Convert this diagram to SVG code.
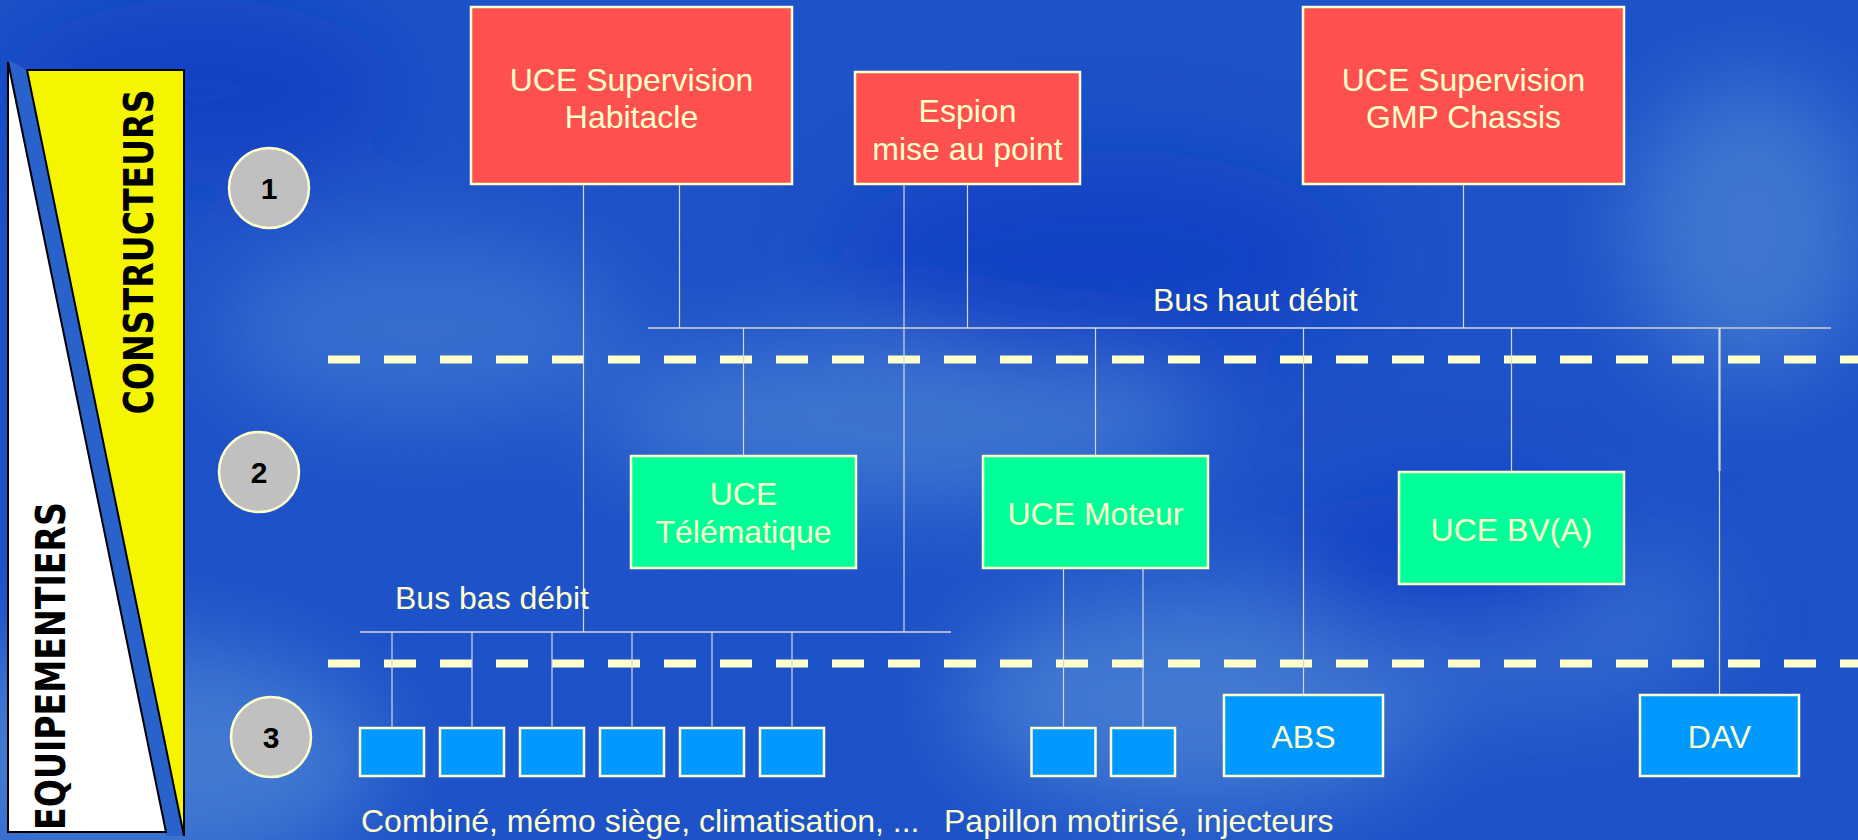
<svg xmlns="http://www.w3.org/2000/svg" width="1858" height="840" viewBox="0 0 1858 840">
<defs>
<filter id="blur" x="-50%" y="-50%" width="200%" height="200%"><feGaussianBlur stdDeviation="45"/></filter>
<style>
.t{font-family:"Liberation Sans",Arial,sans-serif;font-size:32px;fill:#ffffcc;text-anchor:middle}
.tl{font-family:"Liberation Sans",Arial,sans-serif;font-size:32px;fill:#ffffcc}
.red{fill:#ff5050;stroke:#ffffcc;stroke-width:2.5}
.grn{fill:#00ff99;stroke:#ffffcc;stroke-width:2.5}
.blu{fill:#0099ff;stroke:#ffffcc;stroke-width:2.5}
.num{fill:#c0c0c0;stroke:#ffffcc;stroke-width:2.5}
.nt{font-family:"Liberation Sans",Arial,sans-serif;font-size:30px;font-weight:bold;fill:#000;text-anchor:middle}
.ln{stroke:#d4d8e4;stroke-width:1.2;fill:none}
.bus{stroke:#aab6cc;stroke-width:2.2;fill:none}
.dash{stroke:#ffffcc;stroke-width:8;stroke-dasharray:32 24;fill:none}
.vt{font-family:"DejaVu Sans","Liberation Sans",sans-serif;font-weight:bold;font-size:40px;fill:#000}
</style>
</defs>
<rect width="1858" height="840" fill="#1e52c8"/>
<g filter="url(#blur)" opacity="0.75">
<ellipse cx="120" cy="760" rx="260" ry="120" fill="#4d86d6"/>
<ellipse cx="420" cy="330" rx="200" ry="90" fill="#3f78d2"/>
<ellipse cx="900" cy="420" rx="300" ry="80" fill="#4a82d4"/>
<ellipse cx="1200" cy="700" rx="240" ry="110" fill="#4d86d6"/>
<ellipse cx="1750" cy="230" rx="120" ry="150" fill="#4a82d4"/>
<ellipse cx="1500" cy="620" rx="220" ry="90" fill="#3a72d0"/>
<ellipse cx="200" cy="90" rx="200" ry="90" fill="#0e3ec2"/>
<ellipse cx="1100" cy="260" rx="260" ry="110" fill="#0c3cc4"/>
<ellipse cx="1450" cy="560" rx="160" ry="70" fill="#0a3ac6"/>
</g>

<g id="banner">
<polygon points="9,60 27,70 184,836 166,836" fill="#2a62cc"/>
<polygon points="8,62 8,832 166,832" fill="#ffffff" stroke="#000" stroke-width="2"/>
<polygon points="27,70 184,70 184,836" fill="#f5f500" stroke="#000" stroke-width="2"/>
<text class="vt" transform="translate(153,252) rotate(-90)" text-anchor="middle" textLength="325" lengthAdjust="spacingAndGlyphs">CONSTRUCTEURS</text>
<text class="vt" transform="translate(65,666) rotate(-90)" text-anchor="middle" textLength="328" lengthAdjust="spacingAndGlyphs">EQUIPEMENTIERS</text>
</g>

<g id="levels">
<line class="dash" x1="328" y1="359.5" x2="1858" y2="359.5"/>
<line class="dash" x1="328" y1="663.5" x2="1858" y2="663.5"/>
</g>

<g id="connectors">
<line class="bus" x1="648" y1="328" x2="1831" y2="328"/>
<line class="bus" x1="360" y1="632" x2="951" y2="632"/>
<line class="ln" x1="583.5" y1="184" x2="583.5" y2="632"/>
<line class="ln" x1="679.5" y1="184" x2="679.5" y2="328"/>
<line class="ln" x1="904" y1="184" x2="904" y2="632"/>
<line class="ln" x1="967.5" y1="184" x2="967.5" y2="328"/>
<line class="ln" x1="1463.5" y1="184" x2="1463.5" y2="328"/>
<line class="ln" x1="743.5" y1="328" x2="743.5" y2="456"/>
<line class="ln" x1="1095.5" y1="328" x2="1095.5" y2="456"/>
<line class="ln" x1="1303.5" y1="328" x2="1303.5" y2="695"/>
<line class="ln" x1="1511.5" y1="328" x2="1511.5" y2="472"/>
<line class="ln" x1="1719.5" y1="328" x2="1719.5" y2="471" style="stroke-width:2.2"/>
<line class="ln" x1="1719.5" y1="471" x2="1719.5" y2="695"/>
<line class="ln" x1="392" y1="632" x2="392" y2="728"/>
<line class="ln" x1="472" y1="632" x2="472" y2="728"/>
<line class="ln" x1="552" y1="632" x2="552" y2="728"/>
<line class="ln" x1="632" y1="632" x2="632" y2="728"/>
<line class="ln" x1="712" y1="632" x2="712" y2="728"/>
<line class="ln" x1="792" y1="632" x2="792" y2="728"/>
<line class="ln" x1="1063.5" y1="568" x2="1063.5" y2="728"/>
<line class="ln" x1="1143" y1="568" x2="1143" y2="728"/>
<text class="tl" x="1153" y="311">Bus haut débit</text>
<text class="tl" x="395" y="609">Bus bas débit</text>
</g>

<g id="n1"><circle class="num" cx="269" cy="188" r="40"/><text class="nt" x="269" y="199">1</text></g>
<g id="n2"><circle class="num" cx="259" cy="472" r="40"/><text class="nt" x="259" y="483">2</text></g>
<g id="n3"><circle class="num" cx="271" cy="737" r="40"/><text class="nt" x="271" y="748">3</text></g>

<g id="uce-habitacle"><rect class="red" x="471" y="7" width="321" height="177"/><text class="t" x="631.5" y="91">UCE Supervision</text><text class="t" x="631.5" y="128">Habitacle</text></g>
<g id="espion"><rect class="red" x="855" y="72" width="225" height="112"/><text class="t" x="967.5" y="122">Espion</text><text class="t" x="967.5" y="160">mise au point</text></g>
<g id="uce-gmp"><rect class="red" x="1303" y="7" width="321" height="177"/><text class="t" x="1463.5" y="91">UCE Supervision</text><text class="t" x="1463.5" y="128">GMP Chassis</text></g>

<g id="uce-telematique"><rect class="grn" x="631" y="456" width="225" height="112"/><text class="t" x="743.5" y="505">UCE</text><text class="t" x="743.5" y="543">Télématique</text></g>
<g id="uce-moteur"><rect class="grn" x="983" y="456" width="225" height="112"/><text class="t" x="1095.5" y="525">UCE Moteur</text></g>
<g id="uce-bva"><rect class="grn" x="1399" y="472" width="225" height="112"/><text class="t" x="1511.5" y="541">UCE BV(A)</text></g>

<g id="b1"><rect class="blu" x="360" y="728" width="64" height="48"/></g>
<g id="b2"><rect class="blu" x="440" y="728" width="64" height="48"/></g>
<g id="b3"><rect class="blu" x="520" y="728" width="64" height="48"/></g>
<g id="b4"><rect class="blu" x="600" y="728" width="64" height="48"/></g>
<g id="b5"><rect class="blu" x="680" y="728" width="64" height="48"/></g>
<g id="b6"><rect class="blu" x="760" y="728" width="64" height="48"/></g>
<g id="m1"><rect class="blu" x="1031.5" y="728" width="64" height="48"/></g>
<g id="m2"><rect class="blu" x="1111" y="728" width="64" height="48"/></g>
<g id="abs"><rect class="blu" x="1224" y="695" width="159" height="81"/><text class="t" x="1303.5" y="748">ABS</text></g>
<g id="dav"><rect class="blu" x="1640" y="695" width="159" height="81"/><text class="t" x="1719.5" y="748">DAV</text></g>

<text class="tl" x="361" y="832">Combiné, mémo siège, climatisation, ...</text>
<text class="tl" x="944" y="832">Papillon motirisé, injecteurs</text>
</svg>
